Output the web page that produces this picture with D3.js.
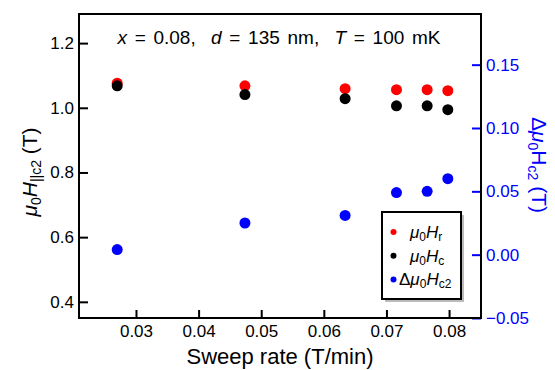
<!DOCTYPE html>
<html>
<head>
<meta charset="utf-8">
<script src="https://cdn.jsdelivr.net/npm/d3@7"></script>
<style>
  body { margin: 0; background: #fff; }
  svg text { font-family: "Liberation Sans", Arial, sans-serif; }
</style>
</head>
<body>
<svg id="chart" width="555" height="370"></svg>
<script>
// sweep rate (T/min)
const sweepRate = [0.027, 0.0474, 0.0634, 0.0716, 0.0765, 0.0798];
// mu0 Hr, mu0 Hc (left axis, T)
const hR = [1.076, 1.068, 1.059, 1.056, 1.056, 1.053];
const hC = [1.068, 1.041, 1.028, 1.006, 1.006, 0.994];
// delta mu0 Hc2 (right axis, T)
const dHc2 = [0.004, 0.025, 0.031, 0.049, 0.050, 0.060];

const xTicks = [0.03, 0.04, 0.05, 0.06, 0.07, 0.08];
const yTicks = [0.4, 0.6, 0.8, 1.0, 1.2];
const y2Ticks = [-0.05, 0.00, 0.05, 0.10, 0.15];

const blue = "#0000ff";
const margin = {left: 79, top: 14, right: 74, bottom: 52};
const width = 555 - margin.left - margin.right;
const height = 370 - margin.top - margin.bottom;

const svg = d3.select("#chart");
const g = svg.append("g").attr("transform", `translate(${margin.left},${margin.top})`);

const x = d3.scaleLinear().domain([0.0209, 0.0851]).range([0, width]);
const y = d3.scaleLinear().domain([0.35, 1.29]).range([height, 0]);
const y2 = d3.scaleLinear().domain([-0.05, 0.19]).range([height, 0]);

// axes with inward ticks
const xAxis = g.append("g").attr("transform", `translate(0,${height})`)
  .call(d3.axisBottom(x).tickValues(xTicks).tickFormat(d3.format(".2f")).tickSizeInner(-8).tickSizeOuter(0).tickPadding(7));
const yAxis = g.append("g")
  .call(d3.axisLeft(y).tickValues(yTicks).tickFormat(d3.format(".1f")).tickSizeInner(-9).tickSizeOuter(0).tickPadding(5));
const y2Axis = g.append("g").attr("transform", `translate(${width},0)`)
  .call(d3.axisRight(y2).tickValues(y2Ticks).tickFormat(d => d3.format(".2f")(d).replace("-", "\u2212")).tickSizeInner(-9).tickSizeOuter(0).tickPadding(5));

[xAxis, yAxis, y2Axis].forEach(a => {
  a.select(".domain").remove();
  a.selectAll("text").attr("font-size", 17).attr("font-family", "Liberation Sans, Arial, sans-serif");
  a.selectAll("line").attr("stroke-width", 2);
});
xAxis.selectAll("text").attr("fill", "#000");
yAxis.selectAll("text").attr("fill", "#000");
y2Axis.selectAll("line").attr("stroke", blue);
y2Axis.selectAll("text").attr("fill", blue);

// frame
g.append("rect").attr("width", width).attr("height", height)
  .attr("fill", "none").attr("stroke", "#000").attr("stroke-width", 2);

// data
const rows = sweepRate.map((s, i) => ({s, r: hR[i], c: hC[i], d: dHc2[i]}));
g.selectAll(".pr").data(rows).enter().append("circle")
  .attr("cx", d => x(d.s)).attr("cy", d => y(d.r)).attr("r", 5.5).attr("fill", "#ff0000");
g.selectAll(".pc").data(rows).enter().append("circle")
  .attr("cx", d => x(d.s)).attr("cy", d => y(d.c)).attr("r", 5.5).attr("fill", "#000");
g.selectAll(".pd").data(rows).enter().append("circle")
  .attr("cx", d => x(d.s)).attr("cy", d => y2(d.d)).attr("r", 5.5).attr("fill", blue);

// annotation
const ann = svg.append("text").attr("x", 279).attr("y", 44).attr("text-anchor", "middle")
  .attr("font-size", 19).attr("word-spacing", 2.4).attr("fill", "#000").attr("xml:space", "preserve");
ann.append("tspan").attr("font-style", "italic").text("x");
ann.append("tspan").text(" = 0.08,  ");
ann.append("tspan").attr("font-style", "italic").text("d");
ann.append("tspan").text(" = 135 nm,  ");
ann.append("tspan").attr("font-style", "italic").text("T");
ann.append("tspan").text(" = 100 mK");

// axis titles
svg.append("text").attr("x", 280).attr("y", 364).attr("text-anchor", "middle")
  .attr("font-size", 22).attr("fill", "#000").text("Sweep rate (T/min)");

const yl = svg.append("text").attr("transform", "translate(37,172) rotate(-90)")
  .attr("text-anchor", "middle").attr("font-size", 21).attr("fill", "#000");
yl.append("tspan").attr("font-style", "italic").text("\u03bc");
yl.append("tspan").attr("font-size", 14).attr("dy", 4).text("0");
yl.append("tspan").attr("font-style", "italic").attr("dy", -4).text("H");
yl.append("tspan").attr("font-size", 14).attr("dy", 4).text("||c2");
yl.append("tspan").attr("dy", -4).text(" (T)");

const y2l = svg.append("text").attr("transform", "translate(532,165) rotate(90)")
  .attr("text-anchor", "middle").attr("font-size", 21).attr("fill", blue);
y2l.append("tspan").text("\u0394");
y2l.append("tspan").attr("font-style", "italic").text("\u03bc");
y2l.append("tspan").attr("font-size", 14).attr("dy", 4).text("0");
y2l.append("tspan").attr("dy", -4).text("H");
y2l.append("tspan").attr("font-size", 14).attr("dy", 4).text("c2");
y2l.append("tspan").attr("dy", -4).text(" (T)");

// legend
const leg = svg.append("g").attr("transform", "translate(382,212)");
leg.append("rect").attr("x", 3).attr("y", 3).attr("width", 79).attr("height", 87).attr("fill", "#bbb");
leg.append("rect").attr("width", 79).attr("height", 87).attr("fill", "#fff").attr("stroke", "#000").attr("stroke-width", 2);
const legItems = [
  {c: "#ff0000", pre: "", sub: "r", tx: 28},
  {c: "#000", pre: "", sub: "c", tx: 28},
  {c: blue, pre: "\u0394", sub: "c2", tx: 17}
];
legItems.forEach((it, i) => {
  const cy = 20 + i * 23.7;
  leg.append("circle").attr("cx", 11.5).attr("cy", cy).attr("r", 3).attr("fill", it.c);
  const t = leg.append("text").attr("x", it.tx).attr("y", cy + 6).attr("font-size", 17).attr("fill", "#000");
  if (it.pre) t.append("tspan").text(it.pre);
  t.append("tspan").attr("font-style", "italic").text("\u03bc");
  t.append("tspan").attr("font-size", 12).attr("dy", 3).text("0");
  t.append("tspan").attr("font-style", "italic").attr("dy", -3).text("H");
  t.append("tspan").attr("font-size", 12).attr("dy", 3).text(it.sub);
});
</script>
</body>
</html>
